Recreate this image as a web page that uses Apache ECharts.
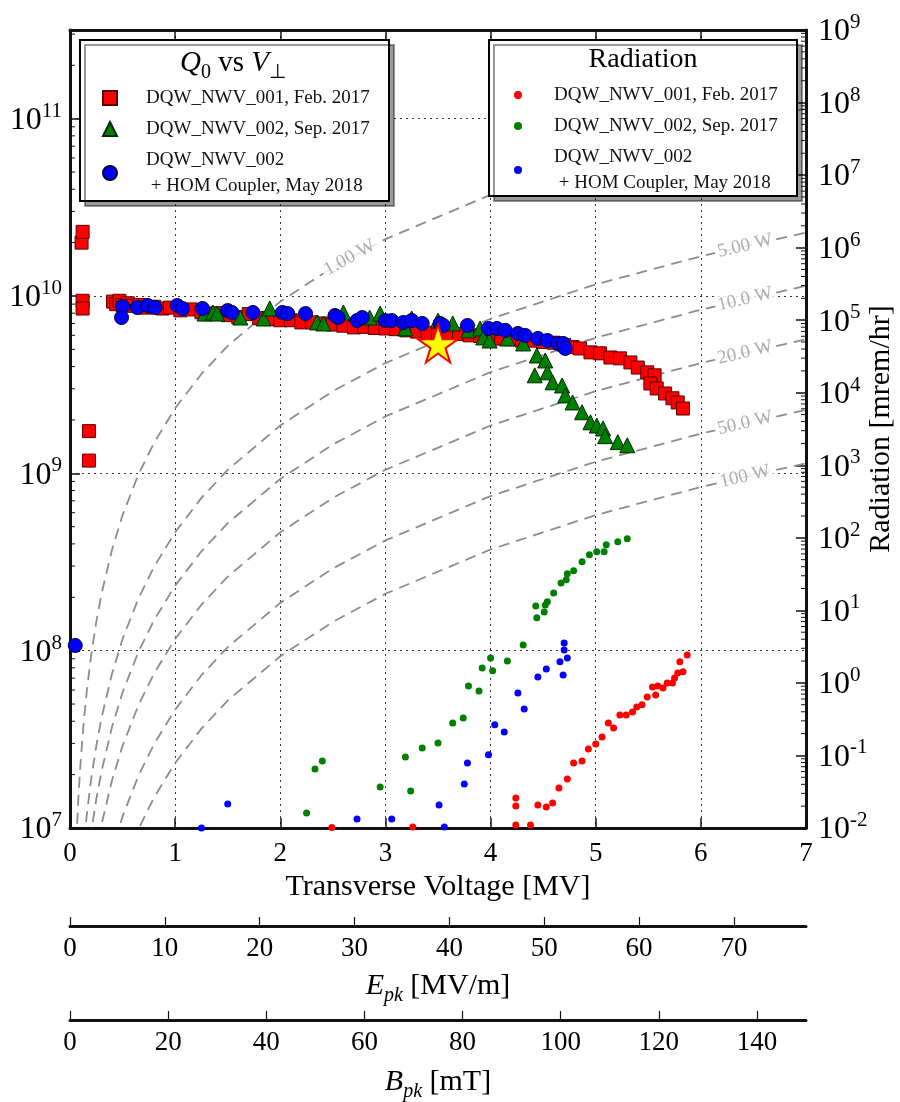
<!DOCTYPE html>
<html><head><meta charset="utf-8">
<script src="https://cdn.jsdelivr.net/npm/echarts@6/dist/echarts.min.js"></script>
<style>html,body{margin:0;padding:0;background:#fff}#c{width:900px;height:1102px}</style>
</head><body><div id="c"></div>
<script>
// ---------- data ----------
// Q0 vs transverse voltage [MV]
const q001 = [[0.11,2.0e10],[0.12,2.3e10],[0.12,9.4e9],[0.12,8.5e9],[0.18,1.73e9],[0.18,1.18e9],
 [0.41,9.3e9],[0.44,9.0e9],[0.47,9.4e9],[0.5,8.9e9],[0.55,9.1e9],[0.6,8.8e9],[0.66,8.9e9],[0.72,8.6e9],
 [0.8,8.7e9],[0.88,8.5e9],[0.95,8.6e9],[1.05,8.3e9],[1.15,8.4e9],[1.25,8.1e9],[1.3,7.9e9],[1.4,8.0e9],
 [1.5,7.8e9],[1.6,7.6e9],[1.7,7.9e9],[1.8,7.5e9],[1.9,7.4e9],[2.0,7.3e9],[2.1,7.3e9],[2.2,7.1e9],
 [2.3,7.1e9],[2.4,7.0e9],[2.5,6.9e9],[2.6,6.8e9],[2.7,6.65e9],[2.8,6.7e9],[2.9,6.6e9],[3.0,6.56e9],
 [3.1,6.5e9],[3.2,6.4e9],[3.3,6.3e9],[3.4,6.2e9],[3.5,6.2e9],[3.6,6.15e9],[3.7,6.1e9],[3.8,6.0e9],
 [3.9,5.95e9],[4.0,5.8e9],[4.1,5.75e9],[4.2,5.7e9],[4.3,5.6e9],[4.4,5.6e9],[4.5,5.5e9],[4.6,5.45e9],
 [4.7,5.3e9],[4.78,5.15e9],[4.85,5.06e9],[4.95,4.81e9],[5.04,4.75e9],[5.14,4.5e9],[5.23,4.45e9],
 [5.33,4.22e9],[5.40,3.95e9],[5.49,3.71e9],[5.56,3.57e9],[5.52,3.21e9],[5.58,3.01e9],[5.66,2.82e9],
 [5.73,2.65e9],[5.78,2.51e9],[5.83,2.32e9]];
const q002 = [[1.28,7.96e9],[1.36,8.07e9],[1.40,7.96e9],[1.62,7.56e9],[1.84,7.47e9],[1.90,8.51e9],
 [2.35,7.09e9],[2.41,7.00e9],[2.60,8.07e9],[2.85,7.56e9],[2.95,7.96e9],[3.19,6.56e9],[3.25,7.47e9],
 [3.50,7.27e9],[3.64,7.00e9],[3.79,6.40e9],[3.90,6.56e9],[3.93,5.84e9],[3.99,5.61e9],[4.16,5.76e9],
 [4.31,5.40e9],[4.44,4.62e9],[4.52,4.33e9],[4.42,3.57e9],[4.54,3.71e9],[4.59,3.26e9],[4.68,3.13e9],
 [4.71,2.75e9],[4.78,2.51e9],[4.87,2.21e9],[4.95,1.94e9],[5.01,1.86e9],[5.07,1.79e9],[5.09,1.62e9],
 [5.21,1.50e9],[5.30,1.44e9]];
const q002hom = [[0.05,1.07e8],[0.50,8.73e9],[0.49,7.56e9],[0.64,8.61e9],[0.74,8.84e9],[0.81,8.61e9],
 [1.02,8.84e9],[1.07,8.50e9],[1.26,8.50e9],[1.50,8.28e9],[1.54,8.07e9],[1.74,8.07e9],[2.02,8.07e9],
 [2.07,7.96e9],[2.24,7.96e9],[2.52,7.76e9],[2.55,7.56e9],[2.73,7.27e9],[2.78,7.56e9],[3.00,7.27e9],
 [3.06,7.27e9],[3.17,7.09e9],[3.25,7.27e9],[3.35,7.00e9],[3.52,7.00e9],[3.55,6.82e9],[3.78,6.82e9],
 [3.98,6.56e9],[4.06,6.56e9],[4.14,6.40e9],[4.26,6.15e9],[4.33,5.99e9],[4.45,5.76e9],[4.54,5.61e9],
 [4.64,5.40e9],[4.69,5.40e9],[4.71,5.06e9]];
const starPoint = [[3.50,5.4e9]];

// Radiation [mrem/hr] vs transverse voltage [MV]
const rad001 = [[2.49,0.0102],[3.26,0.0103],[4.24,0.0110],[4.38,0.0110],[4.24,0.0259],[4.24,0.0201],
 [4.45,0.0208],[4.53,0.0195],[4.59,0.0221],[4.65,0.0356],[4.73,0.0475],[4.79,0.0788],[4.87,0.0840],
 [4.93,0.123],[5.00,0.144],[5.06,0.180],[5.12,0.281],[5.17,0.239],[5.23,0.362],[5.29,0.362],[5.35,0.398],
 [5.39,0.467],[5.44,0.498],[5.49,0.641],[5.54,0.881],[5.57,0.683],[5.59,0.910],[5.64,0.853],[5.68,1.0],
 [5.73,1.0],[5.75,1.17],[5.78,1.37],[5.83,1.42],[5.80,1.95],[5.87,2.43]];
const rad002 = [[2.25,0.0161],[2.33,0.0652],[2.40,0.0840],[2.95,0.0368],[3.24,0.0324],[3.19,0.0953],
 [3.35,0.127],[3.50,0.149],[3.64,0.281],[3.74,0.329],[3.79,0.910],[3.89,0.776],[3.92,1.61],[4.02,1.47],
 [4.00,2.21],[4.16,2.01],[4.31,3.34],[4.44,7.88],[4.43,11.5],[4.51,9.53],[4.52,11.9],[4.54,13.1],
 [4.60,17.4],[4.67,23.9],[4.72,26.4],[4.73,31.9],[4.79,35.1],[4.87,46.7],[4.94,58.3],[5.01,64.1],
 [5.08,64.1],[5.10,80.0],[5.21,88.1],[5.30,96.8]];
const rad002hom = [[1.25,0.0100],[1.50,0.0214],[2.73,0.0133],[3.06,0.0133],[3.56,0.0103],[3.51,0.0208],
 [3.75,0.0404],[3.78,0.0788],[3.98,0.102],[4.04,0.264],[4.13,0.211],[4.26,0.728],[4.32,0.438],[4.45,1.21],
 [4.53,1.56],[4.69,1.29],[4.66,1.95],[4.73,2.21],[4.70,2.85],[4.70,3.56]];

// constant-dissipated-power guide curves (Q0 at each voltage)
const isoVoltage = [0.06,0.08,0.1,0.13,0.16,0.2,0.25,0.3,0.4,0.5,0.65,0.8,1.0,1.25,1.5,2.0,2.5,3.0,4.0,5.0,6.0,7.0];
const isoQ_1W   = [8.37e6,1.488e7,2.326e7,3.930e7,5.953e7,9.302e7,1.453e8,2.093e8,3.721e8,5.814e8,9.826e8,1.488e9,2.326e9,3.634e9,5.233e9,9.302e9,1.453e10,2.093e10,3.721e10,5.814e10,8.372e10,1.140e11];
const isoQ_5W   = [1.674e6,2.977e6,4.651e6,7.860e6,1.191e7,1.860e7,2.907e7,4.186e7,7.442e7,1.163e8,1.965e8,2.977e8,4.651e8,7.267e8,1.047e9,1.860e9,2.907e9,4.186e9,7.442e9,1.163e10,1.674e10,2.279e10];
const isoQ_10W  = [8.37e5,1.488e6,2.326e6,3.930e6,5.953e6,9.302e6,1.453e7,2.093e7,3.721e7,5.814e7,9.826e7,1.488e8,2.326e8,3.634e8,5.233e8,9.302e8,1.453e9,2.093e9,3.721e9,5.814e9,8.372e9,1.140e10];
const isoQ_20W  = [4.186e5,7.442e5,1.163e6,1.965e6,2.977e6,4.651e6,7.267e6,1.047e7,1.860e7,2.907e7,4.913e7,7.442e7,1.163e8,1.817e8,2.616e8,4.651e8,7.267e8,1.047e9,1.860e9,2.907e9,4.186e9,5.698e9];
const isoQ_50W  = [1.674e5,2.977e5,4.651e5,7.860e5,1.191e6,1.860e6,2.907e6,4.186e6,7.442e6,1.163e7,1.965e7,2.977e7,4.651e7,7.267e7,1.047e8,1.860e8,2.907e8,4.186e8,7.442e8,1.163e9,1.674e9,2.279e9];
const isoQ_100W = [8.37e4,1.488e5,2.326e5,3.930e5,5.953e5,9.302e5,1.453e6,2.093e6,3.721e6,5.814e6,9.826e6,1.488e7,2.326e7,3.634e7,5.233e7,9.302e7,1.453e8,2.093e8,3.721e8,5.814e8,8.372e8,1.140e9];
const isoCurves = [isoQ_1W, isoQ_5W, isoQ_10W, isoQ_20W, isoQ_50W, isoQ_100W];
const isoLabelText = ['1.00 W','5.00 W','10.0 W','20.0 W','50.0 W','100 W'];
const isoLabelV = [2.66, 6.42, 6.42, 6.42, 6.42, 6.42];
const isoLabelQ = [1.645e10, 1.917e10, 9.585e9, 4.79e9, 1.917e9, 9.585e8];

// axis ticks
const voltageTicks = [0,1,2,3,4,5,6,7];
const epkRange = [0, 77.6], epkStep = 10;
const bpkRange = [0, 150], bpkStep = 20;
const minorMantissa = [2,3,4,5,6,7,8,9];
const q0Decades = [1e7,1e8,1e9,1e10,1e11];
const radDecades = [1e-2,1e-1,1e0,1e1,1e2,1e3,1e4,1e5,1e6,1e7,1e8];

const legendQ = {q001:'DQW_NWV_001, Feb. 2017', q002:'DQW_NWV_002, Sep. 2017', q002hom:'DQW_NWV_002\n + HOM Coupler, May 2018'};
const legendR = {r001:'DQW_NWV_001, Feb. 2017', r002:'DQW_NWV_002, Sep. 2017', r002hom:'DQW_NWV_002\n + HOM Coupler, May 2018'};

// ---------- chart ----------
const SERIF = "'Liberation Serif','Times New Roman',serif";
const Q0MAX = 3.1623e11;
const chart = echarts.init(document.getElementById('c'));

function powLabel(v){
  const e = Math.round(Math.log10(v));
  return '{b|10}{s|' + (e < 0 ? '-' + (-e) : e) + '}';
}
const powRich = {
  b:{fontFamily:SERIF, fontSize:32, lineHeight:36, verticalAlign:'bottom', color:'#000'},
  s:{fontFamily:SERIF, fontSize:21, lineHeight:22, verticalAlign:'top', color:'#000'}
};
const minorLeft = [], minorRight = [];
q0Decades.forEach(d => minorMantissa.forEach(m => { if (m*d < Q0MAX) minorLeft.push([0, m*d]); }));
radDecades.forEach(d => minorMantissa.forEach(m => minorRight.push([7, m*d])));

function minorTick(dir){
  return function(params, api){
    const p = api.coord([api.value(0), api.value(1)]);
    return {type:'line', shape:{x1:p[0], y1:p[1], x2:p[0]+dir*5, y2:p[1]},
      style:{stroke:'#111', lineWidth:1}};
  };
}
const dotted = {type:[2,4], color:'#333', width:1};
const axisLineStyle = {color:'#111', width:3};
const nameRich = {
  i:{fontFamily:SERIF, fontStyle:'italic', fontSize:30, lineHeight:40, color:'#000'},
  sub:{fontFamily:SERIF, fontStyle:'italic', fontSize:20, lineHeight:28, verticalAlign:'bottom', color:'#000'},
  r:{fontFamily:SERIF, fontSize:30, lineHeight:40, color:'#000'}
};

const isoSeries = isoCurves.map((qs, i) => ({
  type:'line', name:'iso'+i, xAxisIndex:0, yAxisIndex:0, z:1, silent:true,
  symbol:'none', clip:true,
  lineStyle:{color:'#8c8c8c', width:1.8, type:[11,7]},
  data: isoVoltage.map((v, k) => [v, qs[k]])
}));

const option = {
  animation:false,
  backgroundColor:'#fff',
  grid:{left:70, right:94, top:30, bottom:274, containLabel:false, outerBoundsMode:'none'},
  xAxis:[
    {type:'value', min:voltageTicks[0], max:voltageTicks[voltageTicks.length-1], interval:1, position:'bottom',
     axisLine:{show:true, onZero:false, lineStyle:axisLineStyle},
     axisTick:{show:true, inside:true, length:10, lineStyle:{color:'#111', width:1.5}},
     axisLabel:{fontFamily:SERIF, fontSize:27, color:'#000', margin:12},
     splitLine:{show:true, lineStyle:dotted},
     name:'Transverse Voltage [MV]', nameLocation:'middle', nameGap:42,
     nameTextStyle:{fontFamily:SERIF, fontSize:30, color:'#000'}},
    {type:'value', min:0, max:7, interval:1, position:'top',
     axisLine:{show:true, onZero:false, lineStyle:axisLineStyle},
     axisTick:{show:true, inside:true, length:10, lineStyle:{color:'#111', width:1.5}},
     axisLabel:{show:false}, splitLine:{show:false}},
    {type:'value', min:epkRange[0], max:epkRange[1], interval:epkStep, position:'bottom', offset:98,
     axisLine:{show:true, onZero:false, lineStyle:axisLineStyle},
     axisTick:{show:true, inside:true, length:9, lineStyle:{color:'#111', width:1.2}},
     axisLabel:{fontFamily:SERIF, fontSize:27, color:'#000', margin:9, showMaxLabel:false},
     splitLine:{show:false},
     name:'{i|E}{sub|pk}{r| [MV/m]}', nameLocation:'middle', nameGap:40,
     nameTextStyle:{rich:nameRich}},
    {type:'value', min:bpkRange[0], max:bpkRange[1], interval:bpkStep, position:'bottom', offset:192,
     axisLine:{show:true, onZero:false, lineStyle:axisLineStyle},
     axisTick:{show:true, inside:true, length:9, lineStyle:{color:'#111', width:1.2}},
     axisLabel:{fontFamily:SERIF, fontSize:27, color:'#000', margin:9, showMaxLabel:false},
     splitLine:{show:false},
     name:'{i|B}{sub|pk}{r| [mT]}', nameLocation:'middle', nameGap:42,
     nameTextStyle:{rich:nameRich}}
  ],
  yAxis:[
    {type:'log', logBase:10, min:1e7, max:Q0MAX, interval:1, position:'left',
     axisLine:{show:true, onZero:false, lineStyle:axisLineStyle},
     axisTick:{show:true, inside:true, length:10, lineStyle:{color:'#111', width:1.5}},
     axisLabel:{formatter:powLabel, rich:powRich, margin:8, showMaxLabel:false},
     splitLine:{show:true, lineStyle:dotted}},
    {type:'log', logBase:10, min:1e-2, max:1e9, interval:1, position:'right',
     axisLine:{show:true, onZero:false, lineStyle:axisLineStyle},
     axisTick:{show:true, inside:true, length:10, lineStyle:{color:'#111', width:1.5}},
     axisLabel:{formatter:powLabel, rich:powRich, margin:12},
     splitLine:{show:false},
     name:'Radiation [mrem/hr]', nameLocation:'middle', nameGap:60, nameRotate:90, nameMoveOverlap:false,
     nameTextStyle:{fontFamily:SERIF, fontSize:30, color:'#000'}}
  ],
  legend:[
    {data:[{name:'q001',icon:'rect'},{name:'q002',icon:'triangle'},{name:'q002hom',icon:'circle'}],
     orient:'vertical', left:102, top:85, itemWidth:14, itemHeight:14, itemGap:5, padding:0,
     selectedMode:false, z:6, formatter:n => legendQ[n],
     textStyle:{fontFamily:SERIF, fontSize:19, lineHeight:26, color:'#111', padding:[0,0,0,24]}},
    {data:[{name:'r001',icon:'circle'},{name:'r002',icon:'circle'},{name:'r002hom',icon:'circle'}],
     orient:'vertical', left:514, top:82, itemWidth:8, itemHeight:8, itemGap:5, padding:0,
     selectedMode:false, z:6, formatter:n => legendR[n],
     textStyle:{fontFamily:SERIF, fontSize:19, lineHeight:26, color:'#111', padding:[0,0,0,27]}}
  ],
  graphic:[
    {type:'rect', z:3, shape:{x:80, y:40, width:309, height:161},
     style:{fill:'#fff', stroke:'#000', lineWidth:2, shadowColor:'rgba(0,0,0,0.4)', shadowOffsetX:5, shadowOffsetY:5, shadowBlur:0}},
    {type:'rect', z:3, shape:{x:489, y:40, width:308, height:156},
     style:{fill:'#fff', stroke:'#000', lineWidth:2, shadowColor:'rgba(0,0,0,0.4)', shadowOffsetX:5, shadowOffsetY:5, shadowBlur:0}},
    {type:'text', z:10, x:233, y:63,
     style:{text:'{qi|Q}{sub|0}{r| vs }{qi|V}{sub|⊥}', align:'center', verticalAlign:'middle',
       rich:{qi:{fontFamily:SERIF, fontStyle:'italic', fontSize:29, lineHeight:40, fill:'#000', color:'#000'},
             sub:{fontFamily:SERIF, fontSize:20, lineHeight:26, verticalAlign:'bottom', fill:'#000', color:'#000'},
             r:{fontFamily:SERIF, fontSize:29, lineHeight:40, fill:'#000', color:'#000'}}}},
    {type:'text', z:10, x:643, y:60,
     style:{text:'Radiation', fontFamily:SERIF, fontSize:28, fill:'#000', align:'center', verticalAlign:'middle'}}
  ],
  series:[
    ...isoSeries,
    {type:'scatter', name:'isoLabels', z:3, silent:true, symbolSize:1,
     itemStyle:{color:'rgba(0,0,0,0)'},
     label:{show:true, position:'inside', formatter:p => p.name, color:'#999',
       fontFamily:SERIF, fontSize:19, backgroundColor:'#fff', padding:[0,3]},
     data: isoLabelText.map((t,i) => ({name:t, value:[isoLabelV[i], isoLabelQ[i]], label:{rotate: i === 0 ? 29 : 13}}))},
    {type:'scatter', name:'q001', xAxisIndex:0, yAxisIndex:0, symbol:'rect', symbolSize:13, z:4,
     itemStyle:{color:'#ff0000', borderColor:'#5a0000', borderWidth:1, opacity:1}, data:q001},
    {type:'scatter', name:'q002', xAxisIndex:0, yAxisIndex:0, symbol:'triangle', symbolSize:15, z:4,
     itemStyle:{color:'#007f00', borderColor:'#002a00', borderWidth:1, opacity:1}, data:q002},
    {type:'scatter', name:'q002hom', xAxisIndex:0, yAxisIndex:0, symbol:'circle', symbolSize:14, z:4,
     itemStyle:{color:'#0000ff', borderColor:'#000033', borderWidth:1, opacity:1}, data:q002hom},
    {type:'scatter', name:'star', xAxisIndex:0, yAxisIndex:0, z:5,
     symbol:'path://M50,0 L61,35 L98,35 L68,56 L79,90 L50,69 L21,90 L32,56 L2,35 L39,35 Z',
     symbolSize:[40,38], itemStyle:{color:'#ffff00', borderColor:'#ff0000', borderWidth:2, opacity:1}, data:starPoint},
    {type:'scatter', name:'r001', xAxisIndex:0, yAxisIndex:1, symbol:'circle', symbolSize:7, z:4,
     itemStyle:{color:'#ff0000', opacity:1}, data:rad001},
    {type:'scatter', name:'r002', xAxisIndex:0, yAxisIndex:1, symbol:'circle', symbolSize:7, z:4,
     itemStyle:{color:'#007f00', opacity:1}, data:rad002},
    {type:'scatter', name:'r002hom', xAxisIndex:0, yAxisIndex:1, symbol:'circle', symbolSize:7, z:4,
     itemStyle:{color:'#0000ff', opacity:1}, data:rad002hom},
    {type:'custom', name:'minorLeft', xAxisIndex:0, yAxisIndex:0, silent:true, z:6,
     renderItem:minorTick(1), data:minorLeft},
    {type:'custom', name:'minorRight', xAxisIndex:0, yAxisIndex:1, silent:true, z:6,
     renderItem:minorTick(-1), data:minorRight}
  ]
};
chart.setOption(option);
</script>
</body></html>
